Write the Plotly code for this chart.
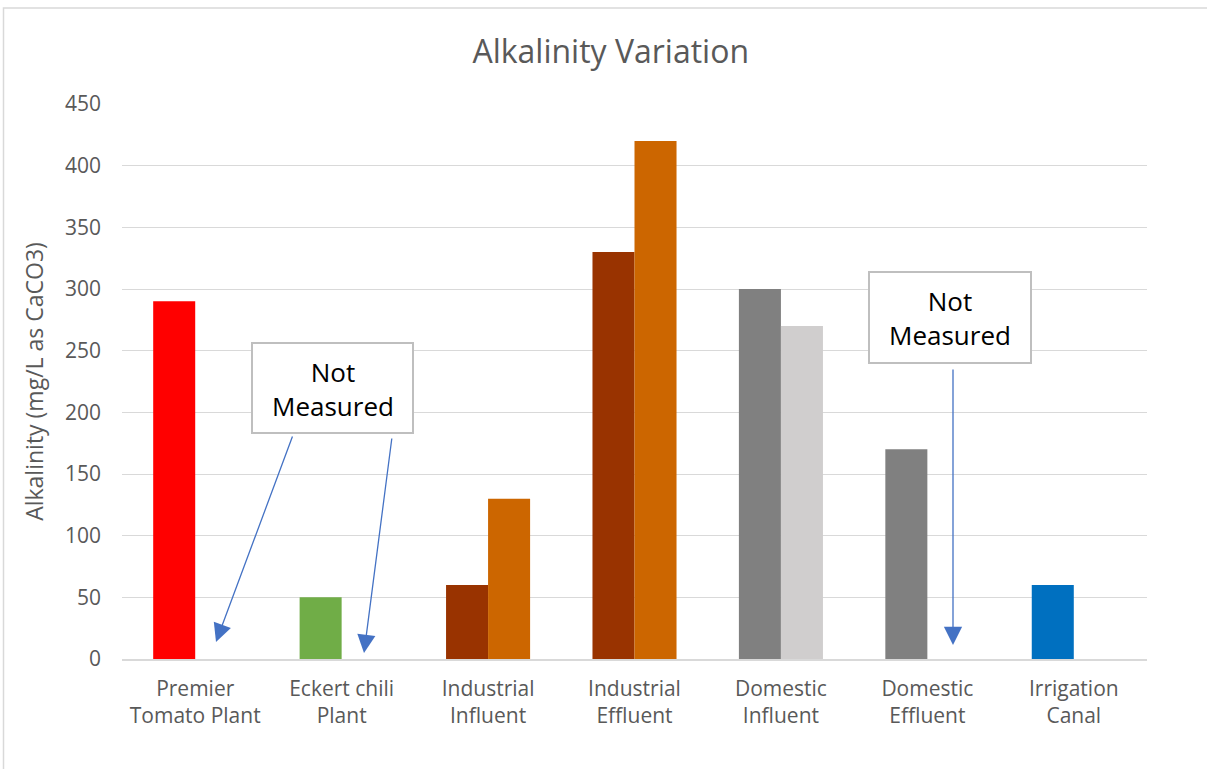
import plotly.graph_objects as go

# Sampling sites and alkalinity readings (mg/L as CaCO3)
categories = [
    "Premier<br>Tomato Plant",
    "Eckert chili<br>Plant",
    "Industrial<br>Influent",
    "Industrial<br>Effluent",
    "Domestic<br>Influent",
    "Domestic<br>Effluent",
    "Irrigation<br>Canal",
]
first_sample = [290, 50, 60, 330, 300, 170, 60]
second_sample = [None, None, 130, 420, 270, None, None]

first_colors = ["#FF0000", "#70AD47", "#993300", "#993300", "#808080", "#808080", "#0070C0"]
second_colors = ["#FFFFFF", "#FFFFFF", "#CC6600", "#CC6600", "#D0CECE", "#FFFFFF", "#FFFFFF"]

y_ticks = [0, 50, 100, 150, 200, 250, 300, 350, 400, 450]

FONT = "Open Sans"
TEXT_GREY = "#595959"

# Plot-area geometry in pixels (used to place the callouts in paper units)
W, H = 1207, 769
L, R, T, B = 122, 60, 104, 110
PW, PH = W - L - R, H - T - B


def px(x):
    return (x - L) / PW


def py(y):
    return (H - B - y) / PH


fig = go.Figure()
fig.add_trace(go.Bar(x=categories, y=first_sample, marker=dict(color=first_colors, line=dict(width=0)),
                     showlegend=False))
fig.add_trace(go.Bar(x=categories, y=second_sample, marker=dict(color=second_colors, line=dict(width=0)),
                     showlegend=False))

shapes = [
    # outer chart border
    dict(type="rect", xref="paper", yref="paper", x0=px(3.5), x1=px(1212), y0=py(8), y1=py(775),
         line=dict(color="#D9D9D9", width=1.5), fillcolor="rgba(0,0,0,0)", layer="below"),
    # "Not Measured" callout boxes
    dict(type="rect", xref="paper", yref="paper", x0=px(252), x1=px(413), y0=py(343), y1=py(433),
         line=dict(color="#BFBFBF", width=2), fillcolor="#FFFFFF", layer="above"),
    dict(type="rect", xref="paper", yref="paper", x0=px(869), x1=px(1031), y0=py(272), y1=py(363),
         line=dict(color="#BFBFBF", width=2), fillcolor="#FFFFFF", layer="above"),
]

annotations = [
    dict(xref="paper", yref="paper", x=px(332.5), y=py(389), text="Not<br>Measured", showarrow=False,
         font=dict(family=FONT, size=26, color="#000000"), xanchor="center", yanchor="middle"),
    dict(xref="paper", yref="paper", x=px(950), y=py(318), text="Not<br>Measured", showarrow=False,
         font=dict(family=FONT, size=26, color="#000000"), xanchor="center", yanchor="middle"),
]

# Arrows from the callouts down to the missing bars: (head_x, head_y, tail_x, tail_y)
arrows = [(216, 642, 293, 435), (364, 653, 392, 437), (953, 645, 953, 368)]
for hx, hy, tx, ty in arrows:
    annotations.append(dict(xref="paper", yref="paper", x=px(hx), y=py(hy), ax=tx - hx, ay=ty - hy,
                            text="", showarrow=True, arrowhead=2, arrowsize=2.8, arrowwidth=1.3,
                            arrowcolor="#4472C4", standoff=0, startstandoff=0))

fig.update_layout(
    width=W, height=H,
    margin=dict(l=L, r=R, t=T, b=B),
    paper_bgcolor="#FFFFFF", plot_bgcolor="#FFFFFF",
    barmode="group", bargap=0.426, bargroupgap=0,
    title=dict(text="Alkalinity Variation", x=0.506, xanchor="center", y=1 - 52 / H, yanchor="middle",
               font=dict(family=FONT, size=32, color=TEXT_GREY)),
    font=dict(family=FONT, size=21, color=TEXT_GREY),
    shapes=shapes,
    annotations=annotations,
    xaxis=dict(showgrid=False, showline=True, linecolor="#D9D9D9", linewidth=1.5, ticks="",
               tickfont=dict(family=FONT, size=21, color=TEXT_GREY), ticklabelstandoff=10,
               fixedrange=True),
    yaxis=dict(range=[0, 450], tickvals=y_ticks, showgrid=True, gridcolor="#D9D9D9", gridwidth=1,
               zeroline=False, showline=False, ticks="", ticklabelstandoff=20,
               tickfont=dict(family=FONT, size=21, color=TEXT_GREY),
               title=dict(text="Alkalinity (mg/L as CaCO3)", standoff=14,
                          font=dict(family=FONT, size=23, color=TEXT_GREY))),
)

fig.write_html("out.html")
